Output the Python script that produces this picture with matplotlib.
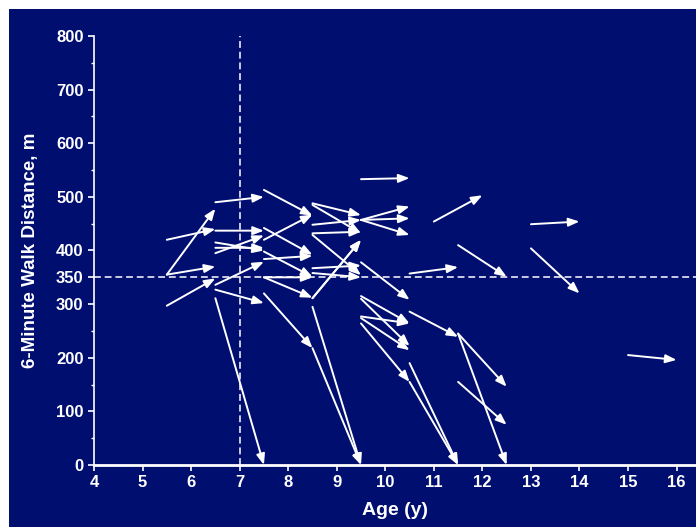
import matplotlib.pyplot as plt
from matplotlib.patches import Rectangle

# Age (y) and 6-minute walk distance (m) at start and end of each arrow
age_from = [5.5, 5.5, 5.5, 5.5,
            6.5, 6.5, 6.5, 6.5, 6.5, 6.5, 6.5, 6.5,
            7.5, 7.5, 7.5, 7.5, 7.5, 7.5, 7.5, 7.5,
            8.5, 8.5, 8.5, 8.5, 8.5, 8.5, 8.5, 8.5, 8.5, 8.5, 8.5,
            9.5, 9.5, 9.5, 9.5, 9.5, 9.5, 9.5, 9.5, 9.5, 9.5,
            10.5, 10.5, 10.5, 10.5,
            11.0, 11.5, 11.5, 11.5, 11.5,
            13.0, 13.0, 15.0]
dist_from = [420, 355, 355, 297,
             490, 437, 415, 395, 405, 336, 327, 311,
             513, 420, 442, 384, 398, 350, 350, 320,
             488, 485, 448, 432, 429, 367, 358, 311, 218, 295, 311,
             533, 457, 457, 457, 378, 315, 310, 277, 274, 264,
             357, 286, 155, 190,
             454, 410, 245, 245, 155,
             449, 404, 205]
age_to = [6.5, 6.5, 6.5, 6.5,
          7.5, 7.5, 7.5, 7.5, 7.5, 7.5, 7.5, 7.5,
          8.5, 8.5, 8.5, 8.5, 8.5, 8.5, 8.5, 8.5,
          9.5, 9.5, 9.5, 9.5, 9.5, 9.5, 9.5, 9.5, 9.5, 9.5, 9.5,
          10.5, 10.5, 10.5, 10.5, 10.5, 10.5, 10.5, 10.5, 10.5, 10.5,
          11.5, 11.5, 11.5, 11.5,
          12.0, 12.5, 12.5, 12.5, 12.5,
          14.0, 14.0, 16.0]
dist_to = [440, 478, 370, 348,
           500, 437, 400, 428, 405, 379, 302, 0,
           465, 467, 392, 390, 351, 350, 312, 218,
           466, 432, 457, 435, 354, 372, 350, 420, 0, 0, 420,
           535, 482, 460, 429, 308, 264, 222, 264, 214, 155,
           369, 239, 0, 0,
           503, 351, 146, 0, 75,
           454, 320, 196]

x_ticks = [4, 5, 6, 7, 8, 9, 10, 11, 12, 13, 14, 15, 16]
y_ticks = [0, 100, 200, 300, 350, 400, 500, 600, 700, 800]
y_minor = [50, 150, 250, 450, 550, 650, 750]
age_cut = 7
dist_cut = 350

navy = '#000e70'
plt.rcParams['font.family'] = ['Liberation Sans', 'DejaVu Sans']

fig = plt.figure(figsize=(6.96, 5.27), dpi=100)
fig.patch.set_facecolor('white')
fig.patches.append(Rectangle((9 / 696, 0), 1, 1 - 9 / 527, transform=fig.transFigure,
                             facecolor=navy, edgecolor='none', zorder=-1))

ax = fig.add_axes([94 / 696, 62 / 527, 602 / 696, 429 / 527])
ax.set_facecolor(navy)
ax.set_xlim(4, 16.4)
ax.set_ylim(0, 800)

for s in ['top', 'right']:
    ax.spines[s].set_visible(False)
for s in ['left', 'bottom']:
    ax.spines[s].set_color('white')
ax.spines['left'].set_linewidth(1.2)
ax.spines['bottom'].set_linewidth(2)

# dashed cut-off lines
ax.axvline(age_cut, color='white', ls=(0, (4.5, 2.5)), lw=1.1, zorder=1)
ax.axhline(dist_cut, color='white', ls=(0, (4.5, 2.5)), lw=1.1, zorder=1)

for x0, y0, x1, y1 in zip(age_from, dist_from, age_to, dist_to):
    ax.annotate('', xy=(x1, y1), xytext=(x0, y0),
                arrowprops=dict(arrowstyle='-|>,head_length=0.65,head_width=0.25',
                                color='white', lw=1.4, mutation_scale=10,
                                shrinkA=0, shrinkB=0), zorder=3)

ax.set_xticks(x_ticks)
ax.set_yticks(y_ticks)
ax.set_yticks(y_minor, minor=True)
ax.tick_params(axis='both', colors='white', labelcolor='white', labelsize=12,
               direction='out', width=1.2, length=4)
ax.tick_params(axis='y', which='minor', colors='white', length=2.5, width=1)
for lab in ax.get_xticklabels() + ax.get_yticklabels():
    lab.set_fontweight('bold')

ax.set_xlabel('Age (y)', color='white', fontsize=14, fontweight='bold', labelpad=8)
ax.set_ylabel('6-Minute Walk Distance, m', color='white', fontsize=13.5,
              fontweight='bold', labelpad=12)

plt.savefig('out.png', dpi=100, facecolor=fig.get_facecolor())
